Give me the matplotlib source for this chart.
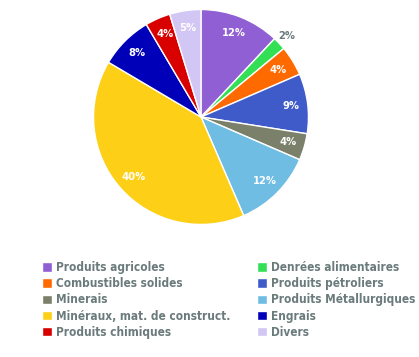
import numpy as np
import matplotlib.pyplot as plt
from matplotlib.patches import Patch

labels = ['Produits agricoles', 'Denrées alimentaires', 'Combustibles solides',
          'Produits pétroliers', 'Minerais', 'Produits Métallurgiques',
          'Minéraux, mat. de construct.', 'Engrais', 'Produits chimiques', 'Divers']
values = [12, 2, 4.5, 9, 4, 12, 40, 8, 3.8, 4.7]
pct_text = ['12%', '2%', '4%', '9%', '4%', '12%', '40%', '8%', '4%', '5%']
colors = ['#8f5fd3', '#33e055', '#ff6a00', '#3f5bc9', '#7b806a', '#6fbde3',
          '#fdd017', '#0000b8', '#d90000', '#d2c6f5']

plt.rcParams['font.family'] = ['DejaVu Sans']
plt.rcParams['font.stretch'] = 'condensed'
txt_col = '#6b7b7b'

fig = plt.figure(figsize=(4.19, 3.57), dpi=100)
ax = fig.add_axes([(201 - 108) / 419, (357 - 117 - 108) / 357, 216 / 419, 216 / 357])
wedges, _ = ax.pie(values, colors=colors, startangle=90, counterclock=False,
                   wedgeprops=dict(edgecolor='white', linewidth=1))
ax.set_xlim(-1.005, 1.005)
ax.set_ylim(-1.005, 1.005)
ax.set_aspect('equal')

total = sum(values)
cum = 0
for i, v in enumerate(values):
    mid = 90 - (cum + v / 2) / total * 360
    cum += v
    r = 1.1 if i == 1 else 0.84
    c = txt_col if i == 1 else 'white'
    ax.text(r * np.cos(np.radians(mid)), r * np.sin(np.radians(mid)), pct_text[i],
            ha='center', va='center', color=c, fontsize=8, fontweight='bold')

# two legend columns placed separately
for idx, x0 in [([0, 2, 4, 6, 8], 42), ([1, 3, 5, 7, 9], 257)]:
    handles = [Patch(facecolor=colors[i], edgecolor='white') for i in idx]
    leg = fig.legend(handles, [labels[i] for i in idx], loc='upper left',
                     bbox_to_anchor=(x0 / 419, 1 - 261 / 357), frameon=False,
                     handlelength=0.85, handleheight=0.85, handletextpad=0.35,
                     labelspacing=0.27, borderpad=0, borderaxespad=0,
                     prop=dict(size=8.5, weight='bold', stretch='condensed'))
    for t in leg.get_texts():
        t.set_color(txt_col)

fig.savefig('out.png', dpi=100)
